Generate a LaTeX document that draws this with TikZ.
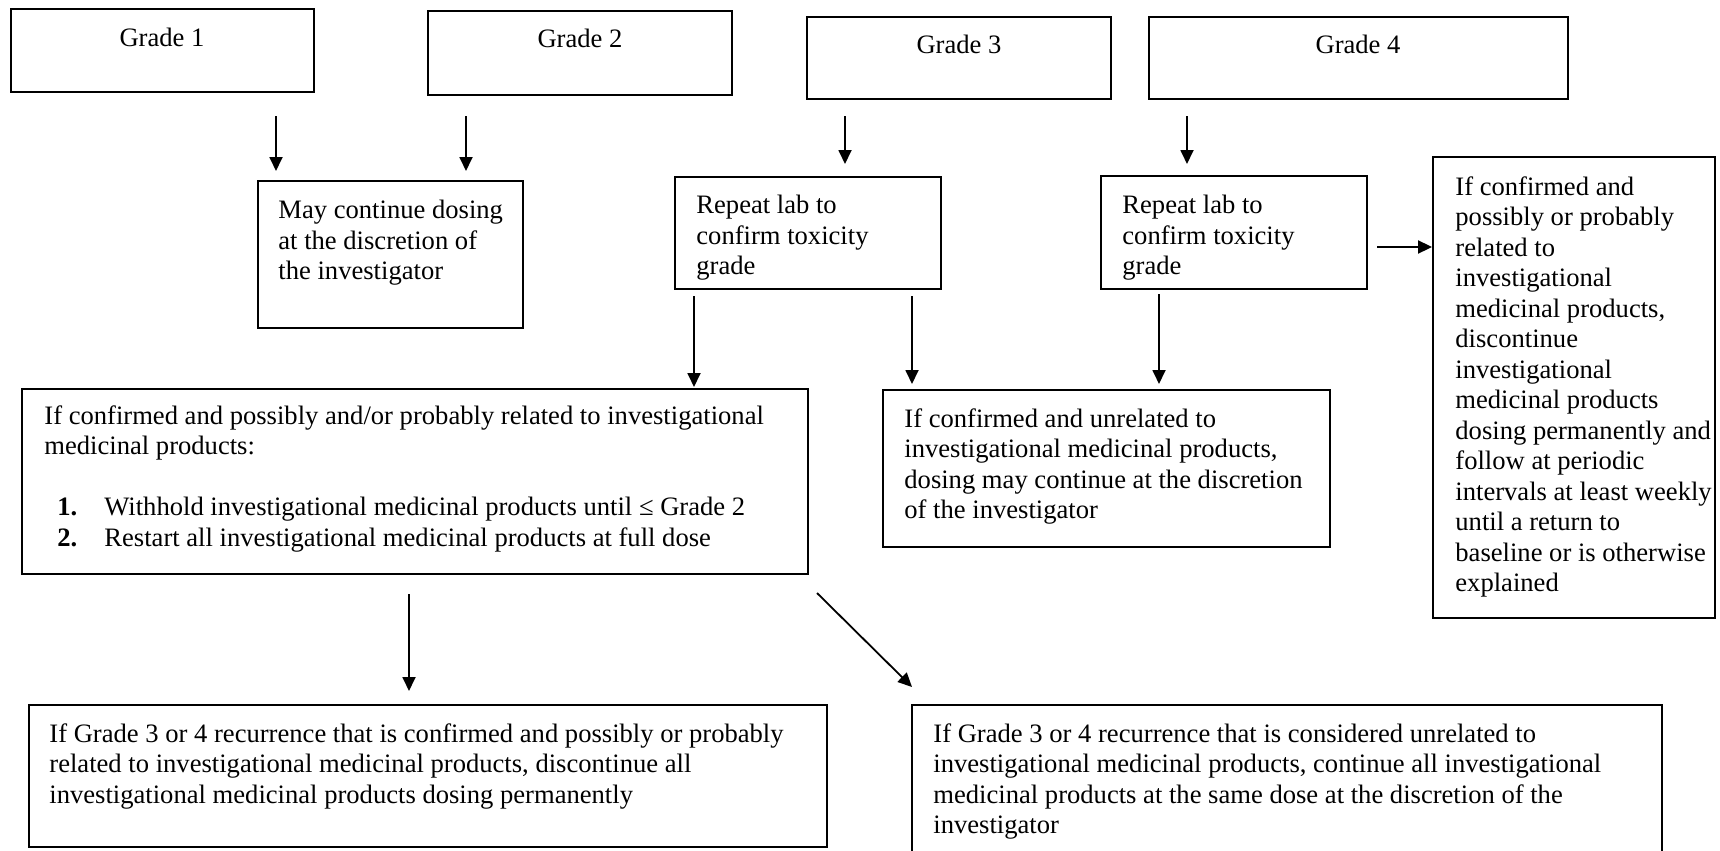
\documentclass[tikz,border=0pt]{standalone}
\usepackage{fontspec}
\setmainfont{Liberation Serif}
\usetikzlibrary{arrows.meta,fit}
\begin{document}
\begin{tikzpicture}[x=0.5pt,y=-0.5pt,
  box/.style={draw, line width=1pt, inner sep=0pt},
  txt/.style={inner sep=0pt, align=left, anchor=north west, font=\fontsize{13.3}{15.25}\selectfont},
  lbl/.style={inner sep=0pt, anchor=north, font=\fontsize{13.3}{15.25}\selectfont},
  arr/.style={-{Triangle[length=7pt,width=6.5pt]}, line width=0.9pt}]
\useasboundingbox (0,0) rectangle (1720,851);
\clip (0,0) rectangle (1720,851);

% boxes
\node[box, fit={(11,9) (314,92)}] (g1) {};
\node[box, fit={(428,11) (732,95)}] (g2) {};
\node[box, fit={(807,17) (1111,99)}] (g3) {};
\node[box, fit={(1149,17) (1568,99)}] (g4) {};
\node[box, fit={(258,181) (523,328)}] (mc) {};
\node[box, fit={(675,177) (941,289)}] (r3) {};
\node[box, fit={(1101,176) (1367,289)}] (r4) {};
\node[box, fit={(1433,157) (1715,618)}] (rt) {};
\node[box, fit={(22,389) (808,574)}] (big) {};
\node[box, fit={(883,390) (1330,547)}] (mid) {};
\node[box, fit={(29,705) (827,847)}] (bl) {};
\node[box, fit={(912,705) (1662,880)}] (br) {};

% texts
\node[lbl] (t1) at (162,28) {Grade 1};
\node[lbl] (t2) at (580,29) {Grade 2};
\node[lbl] (t3) at (959,35) {Grade 3};
\node[lbl] (t4) at (1358,35) {Grade 4};
\node[txt] (tmc) at (278,200) {May continue dosing\\at the discretion of\\the investigator};
\node[txt] (tr3) at (696,195) {Repeat lab to\\confirm toxicity\\grade};
\node[txt] (tr4) at (1122,195) {Repeat lab to\\confirm toxicity\\grade};
\node[txt] (trt) at (1455,176) {If confirmed and\\possibly or probably\\related to\\investigational\\medicinal products,\\discontinue\\investigational\\medicinal products\\dosing permanently and\\follow at periodic\\intervals at least weekly\\until a return to\\baseline or is otherwise\\explained};
\node[txt] (tbig) at (44,405) {If confirmed and possibly and/or probably related to investigational\\medicinal products:\\[15.25pt]\hspace{6.5pt}\makebox[23.5pt][l]{\textbf{1.}}Withhold investigational medicinal products until ≤ Grade 2\\\hspace{6.5pt}\makebox[23.5pt][l]{\textbf{2.}}Restart all investigational medicinal products at full dose};
\node[txt] (tmid) at (904,408) {If confirmed and unrelated to\\investigational medicinal products,\\dosing may continue at the discretion\\of the investigator};
\node[txt] (tbl) at (49,723) {If Grade 3 or 4 recurrence that is confirmed and possibly or probably\\related to investigational medicinal products, discontinue all\\investigational medicinal products dosing permanently};
\node[txt] (tbr) at (933,723) {If Grade 3 or 4 recurrence that is considered unrelated to\\investigational medicinal products, continue all investigational\\medicinal products at the same dose at the discretion of the\\investigator};

% x positions for vertical arrows
\coordinate (xa) at (276,0);
\coordinate (xb) at (466,0);
\coordinate (xc) at (845,0);
\coordinate (xd) at (1187,0);
\coordinate (xe) at (694,0);
\coordinate (xf) at (912,0);
\coordinate (xg) at (1159,0);
\coordinate (xh) at (409,0);
\coordinate (ya) at (0,247);
\coordinate (ds) at (817,593);
\coordinate (de) at (912,687);

% connectors
\draw[arr, shorten <=11.5pt, shorten >=4.5pt] (g1.south -| xa) -- (mc.north -| xa);
\draw[arr, shorten <=10pt, shorten >=4.5pt] (g2.south -| xb) -- (mc.north -| xb);
\draw[arr, shorten <=8pt, shorten >=6pt] (g3.south -| xc) -- (r3.north -| xc);
\draw[arr, shorten <=8pt, shorten >=5.5pt] (g4.south -| xd) -- (r4.north -| xd);
\draw[arr, shorten <=3pt, shorten >=0.5pt] (r3.south -| xe) -- (big.north -| xe);
\draw[arr, shorten <=3pt, shorten >=2.5pt] (r3.south -| xf) -- (mid.north -| xf);
\draw[arr, shorten <=2pt, shorten >=2.5pt] (r4.south -| xg) -- (mid.north -| xg);
\draw[arr, line width=1.1pt, shorten <=4.5pt] (r4.east |- ya) -- (rt.west |- ya);
\draw[arr, shorten <=9.5pt, shorten >=6.5pt] (big.south -| xh) -- (bl.north -| xh);
\draw[arr] (ds) -- (de);
\end{tikzpicture}
\end{document}
